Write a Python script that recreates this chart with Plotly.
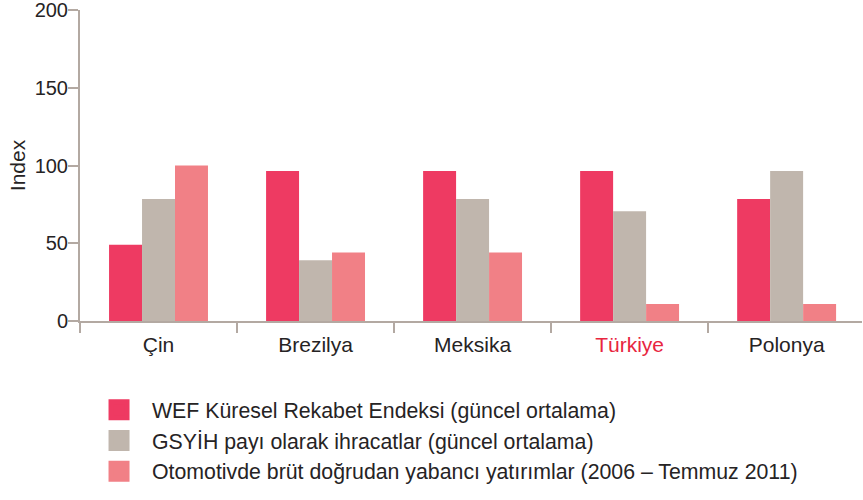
import plotly.graph_objects as go

# data
countries = ['Çin', 'Brezilya', 'Meksika', 'Türkiye', 'Polonya']
tick_labels = ['Çin', 'Brezilya', 'Meksika', '<span style="color:#e8263f">Türkiye</span>', 'Polonya']
wef = [49, 96.5, 96.5, 96.5, 78.5]
gsyih = [78.5, 39, 78.5, 70.5, 96.5]
oto = [100, 44, 44, 11, 11]
series_names = ['WEF Küresel Rekabet Endeksi (güncel ortalama)',
                'GSYİH payı olarak ihracatlar (güncel ortalama)',
                'Otomotivde brüt doğrudan yabancı yatırımlar (2006 – Temmuz 2011)']
colors = ['#ee3a62', '#c0b6ad', '#f18086']

fig = go.Figure()
for i, (name, vals) in enumerate(zip(series_names, [wef, gsyih, oto])):
    fig.add_trace(go.Bar(x=countries, y=vals, name=name, marker_color=colors[i],
                         marker_line_width=0, showlegend=False))
    # legend swatch (bigger square than the bar legend icon)
    fig.add_trace(go.Scatter(x=[None], y=[None], mode='markers', name=name,
                             legendgroup=str(i),
                             marker=dict(symbol='square', size=16, color=colors[i],
                                         line=dict(width=5, color=colors[i]))))

axis_color = '#b3a9a2'
text_color = '#262324'
fig.update_layout(
    width=863, height=500,
    margin=dict(l=80, r=1, t=10, b=179, autoexpand=False),
    plot_bgcolor='white', paper_bgcolor='white',
    font=dict(family='Liberation Sans, Arial, sans-serif', size=21, color=text_color),
    barmode='group', bargap=0.37, bargroupgap=0,
    showlegend=True,
    legend=dict(x=0.0077, y=-0.22, xanchor='left', yanchor='top', traceorder='normal',
                tracegroupgap=6.5, font=dict(size=21.3, color=text_color), itemwidth=56),
)
fig.update_xaxes(
    tickvals=countries, ticktext=tick_labels, tickson='boundaries',
    showline=True, linecolor=axis_color, linewidth=2,
    ticks='outside', ticklen=10, tickcolor=axis_color, tickwidth=2,
    range=[-0.5, 4.48], showgrid=False, automargin=False,
    tickfont=dict(size=21), ticklabelstandoff=4,
)
fig.update_yaxes(
    range=[0, 200], tickvals=[0, 50, 100, 150, 200],
    showline=True, linecolor=axis_color, linewidth=2,
    ticks='outside', ticklen=10, tickcolor=axis_color, tickwidth=2,
    showgrid=False, zeroline=False, automargin=False,
    tickfont=dict(size=20), ticklabelstandoff=-4, ticklabeloverflow='allow',
    title=dict(text='Index', standoff=3, font=dict(size=21)),
)

# drop the browser's default 8px body margin so the page lines up
fig.write_html('out.html', config={'displayModeBar': False},
               post_script="document.body.style.margin='0';")
